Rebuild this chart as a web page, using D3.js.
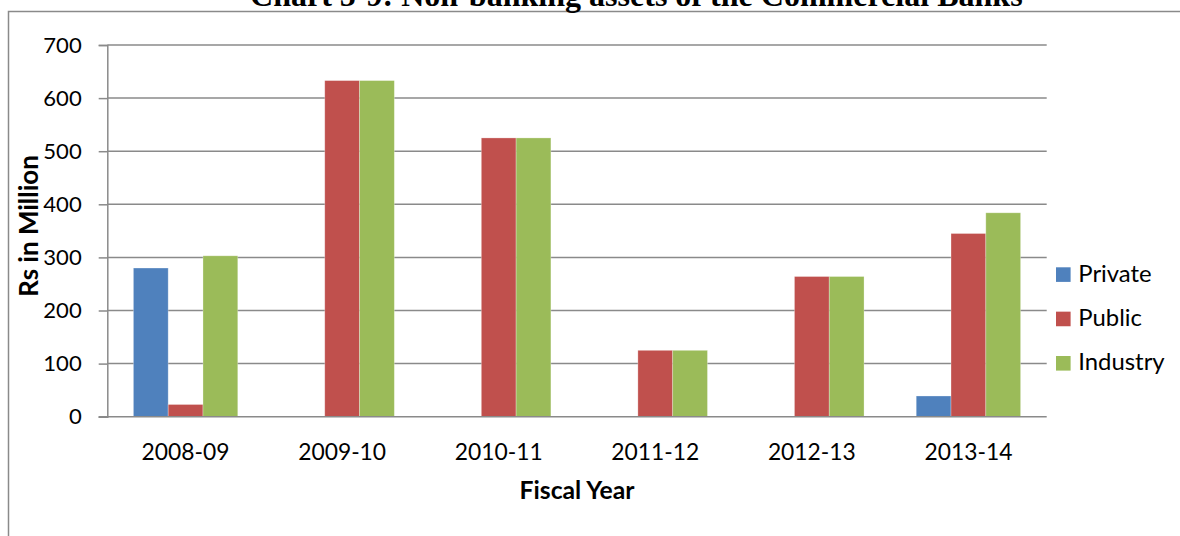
<!DOCTYPE html>
<html>
<head>
<meta charset="utf-8">
<script src="https://cdn.jsdelivr.net/npm/d3@7"></script>
<style>
  html, body { margin: 0; padding: 0; background: #fff; }
  svg { display: block; }
</style>
</head>
<body>
<svg id="chart" width="1180" height="536"></svg>
<script>
// Non-banking assets of the commercial banks, Rs in million
const categories = ["2008-09", "2009-10", "2010-11", "2011-12", "2012-13", "2013-14"];
const seriesNames = ["Private", "Public", "Industry"];
const privateValues  = [280, 0, 0, 0, 0, 39];
const publicValues   = [23, 633, 525, 125, 264, 345];
const industryValues = [303, 633, 525, 125, 264, 384];
const yTicks = [0, 100, 200, 300, 400, 500, 600, 700];
const titleText = "Chart 5-9: Non-banking assets of the Commercial Banks";
const yTitle = "Rs in Million";
const xTitle = "Fiscal Year";

const colors = ["#4F81BD", "#C0504D", "#9BBB59"];
const seriesValues = [privateValues, publicValues, industryValues];
const sansFont = "Lato, 'Open Sans', 'DejaVu Sans', sans-serif";
const serifFont = "'Liberation Serif', 'DejaVu Serif', serif";
const gridColor = "#8a8a8a";

const svg = d3.select("#chart");

// font size that makes a sample string span a given width
function fitSize(sample, family, weight, width) {
  const t = svg.append("text").attr("font-family", family).attr("font-weight", weight)
    .attr("font-size", 100).text(sample);
  const w = t.node().getComputedTextLength();
  t.remove();
  return 100 * width / w;
}

const plot = { left: 107.3, right: 1046.7, top: 45, bottom: 416.7 };

const y = d3.scaleLinear().domain([0, 700]).range([plot.bottom, plot.top]);
const x0 = d3.scaleBand().domain(categories).range([plot.left, plot.right]).padding(0);
const step = x0.bandwidth();
const barW = step / 4.5;
const x1 = d3.scaleBand().domain(seriesNames).range([0.75 * barW, 3.75 * barW]).padding(0);

// outer frame
svg.append("path")
  .attr("d", `M8.5,536 L8.5,11.5 L1180,11.5`)
  .attr("fill", "none").attr("stroke", gridColor).attr("stroke-width", 1.5);

// title (partly above the frame)
const titleSize = fitSize(titleText, serifFont, "bold", 773);
svg.append("text")
  .attr("x", 250).attr("y", 6)
  .attr("font-family", serifFont).attr("font-weight", "bold")
  .attr("font-size", titleSize).attr("fill", "#000")
  .text(titleText);

// horizontal gridlines
svg.append("g").selectAll("line").data(yTicks.filter(d => d > 0)).join("line")
  .attr("x1", plot.left).attr("x2", plot.right)
  .attr("y1", d => y(d)).attr("y2", d => y(d))
  .attr("stroke", gridColor).attr("stroke-width", 1.5);

// y axis
const yAxis = d3.axisLeft(y).tickValues(yTicks).tickSize(8.6).tickPadding(17).tickFormat(d3.format("d"));
const yAxisG = svg.append("g").attr("transform", `translate(${plot.left},0)`).call(yAxis);
yAxisG.select(".domain").attr("stroke", gridColor).attr("stroke-width", 1.5);
yAxisG.selectAll(".tick line").attr("stroke", gridColor).attr("stroke-width", 1.5);
const yLabSize = fitSize("700", sansFont, "normal", 38.4);
yAxisG.selectAll(".tick text")
  .attr("font-family", sansFont).attr("font-size", yLabSize).attr("fill", "#000");

// bars
const groups = svg.append("g").selectAll("g").data(categories).join("g")
  .attr("transform", d => `translate(${x0(d)},0)`);
groups.selectAll("rect")
  .data((c, i) => seriesNames.map((s, k) => ({ s, k, v: seriesValues[k][i] })))
  .join("rect")
  .attr("x", d => x1(d.s))
  .attr("width", x1.bandwidth())
  .attr("y", d => y(d.v))
  .attr("height", d => y(0) - y(d.v))
  .attr("fill", d => colors[d.k])
  .attr("stroke", "rgba(255,255,255,0.35)").attr("stroke-width", 0.8);

// x axis
const xAxis = d3.axisBottom(x0).tickSize(0).tickPadding(26);
const xAxisG = svg.append("g").attr("transform", `translate(0,${plot.bottom})`).call(xAxis);
xAxisG.select(".domain").attr("stroke", gridColor).attr("stroke-width", 1.5)
  .attr("d", `M${plot.left - 8.6},0H${plot.right}`);
const xLabSize = fitSize("2008-09", sansFont, "normal", 88);
xAxisG.selectAll(".tick text")
  .attr("font-family", sansFont).attr("font-size", xLabSize).attr("fill", "#000")
  .attr("dy", null).attr("y", 43.5 - 0);

// axis titles
const yTitleSize = fitSize(yTitle, sansFont, "bold", 141.7);
svg.append("text")
  .attr("transform", `translate(38,226) rotate(-90)`)
  .attr("text-anchor", "middle")
  .attr("font-family", sansFont).attr("font-weight", "bold")
  .attr("font-size", yTitleSize).attr("fill", "#000")
  .text(yTitle);

const xTitleSize = fitSize(xTitle, sansFont, "bold", 115);
svg.append("text")
  .attr("x", (plot.left + plot.right) / 2).attr("y", 499.3)
  .attr("text-anchor", "middle")
  .attr("font-family", sansFont).attr("font-weight", "bold")
  .attr("font-size", xTitleSize).attr("fill", "#000")
  .text(xTitle);

// legend
const legSize = fitSize("Private", sansFont, "normal", 73.4);
const legend = svg.append("g").selectAll("g").data(seriesNames).join("g")
  .attr("transform", (d, i) => `translate(1056,${267.3 + i * 44.35})`);
legend.append("rect").attr("width", 14.6).attr("height", 14.6)
  .attr("fill", (d, i) => colors[i]);
legend.append("text")
  .attr("x", 22.3).attr("y", 14.4)
  .attr("font-family", sansFont).attr("font-size", legSize).attr("fill", "#000")
  .text(d => d);
</script>
</body>
</html>
